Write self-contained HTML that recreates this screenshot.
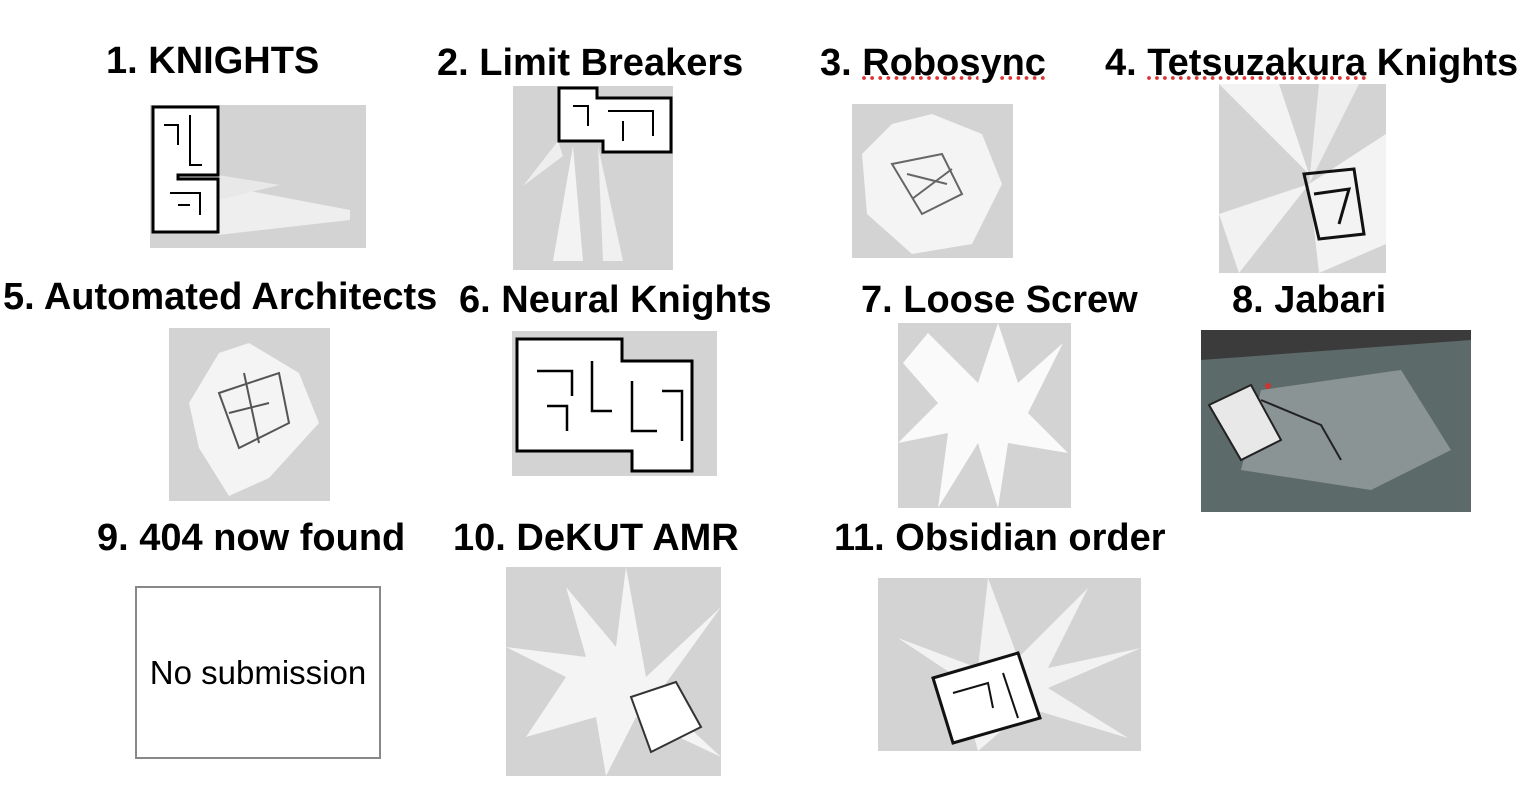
<!DOCTYPE html>
<html><head><meta charset="utf-8"><style>
html,body{margin:0;padding:0;background:#fff;}
body{width:1530px;height:792px;position:relative;overflow:hidden;font-family:"Liberation Sans",Arial,sans-serif;}
.t{position:absolute;font-weight:bold;font-size:38px;line-height:38px;white-space:nowrap;color:#000;}
.im{position:absolute;background:#d3d3d3;overflow:hidden;}
.im svg{position:absolute;left:0;top:0;width:100%;height:100%;}
</style></head><body>
<div class="t" style="left:106px;top:42px;">1. KNIGHTS</div>
<div class="t" style="left:437px;top:44px;">2. Limit Breakers</div>
<div class="t" style="left:820px;top:44px;">3. <span style="text-decoration:underline dotted #d33;">Robosync</span></div>
<div class="t" style="left:1105px;top:44px;">4. <span style="text-decoration:underline dotted #d33;">Tetsuzakura</span> Knights</div>
<div class="t" style="left:3px;top:278px;">5. Automated Architects</div>
<div class="t" style="left:459px;top:281px;">6. Neural Knights</div>
<div class="t" style="left:861px;top:281px;">7. Loose Screw</div>
<div class="t" style="left:1232px;top:281px;">8. Jabari</div>
<div class="t" style="left:97px;top:519px;">9. 404 now found</div>
<div class="t" style="left:453px;top:519px;">10. DeKUT AMR</div>
<div class="t" style="left:834px;top:519px;">11. Obsidian order</div>

<!-- 1 -->
<div class="im" style="left:150px;top:105px;width:216px;height:143px;">
<svg viewBox="0 0 216 143"><polygon points="68,80 200,105 200,115 68,130" fill="#eee"/><polygon points="68,70 130,80 68,95" fill="#e8e8e8"/>
<path d="M3,2 H68 V70 H28 V74 H68 V127 H3 Z" fill="#fff" stroke="#000" stroke-width="3"/>
<path d="M14,20 H28 V40 M40,10 V60 H52 M20,88 H50 V110 M28,100 H40" stroke="#000" stroke-width="2" fill="none"/></svg></div>
<!-- 2 -->
<div class="im" style="left:513px;top:86px;width:160px;height:184px;">
<svg viewBox="0 0 160 184"><polygon points="60,60 40,175 70,175" fill="#f3f3f3"/><polygon points="85,60 90,175 110,175" fill="#f0f0f0"/><polygon points="45,55 10,100 50,70" fill="#eee"/>
<path d="M46,2 H84 V12 H158 V66 H90 V55 H46 Z" fill="#fff" stroke="#000" stroke-width="3"/>
<path d="M60,20 H75 V40 M95,25 H140 V50 M110,35 V55" stroke="#000" stroke-width="2" fill="none"/></svg></div>
<!-- 3 -->
<div class="im" style="left:852px;top:104px;width:161px;height:154px;">
<svg viewBox="0 0 161 154"><polygon points="80,10 130,30 150,80 120,140 60,150 15,110 10,50 40,20" fill="#f4f4f4"/>
<path d="M40,60 L90,50 L110,90 L70,110 Z M55,70 L95,80 M60,95 L100,65" stroke="#666" stroke-width="2" fill="none"/></svg></div>
<!-- 4 -->
<div class="im" style="left:1219px;top:84px;width:167px;height:189px;">
<svg viewBox="0 0 167 189"><polygon points="0,0 90,90 60,0" fill="#f3f3f3"/><polygon points="0,130 90,100 20,189" fill="#f2f2f2"/><polygon points="90,100 167,50 167,160 100,189" fill="#f3f3f3"/><polygon points="90,100 140,0 100,0" fill="#eee"/>
<path d="M85,90 L135,85 L145,150 L100,155 Z M95,110 L130,105 L120,140" stroke="#111" stroke-width="3" fill="none"/></svg></div>
<!-- 5 -->
<div class="im" style="left:169px;top:328px;width:161px;height:173px;">
<svg viewBox="0 0 161 173"><polygon points="80,15 130,45 150,95 100,150 60,168 30,120 20,75 50,25" fill="#f4f4f4"/>
<path d="M50,65 L110,45 L120,95 L70,120 Z M60,85 L100,75 M75,45 L90,115" stroke="#555" stroke-width="2" fill="none"/></svg></div>
<!-- 6 -->
<div class="im" style="left:512px;top:331px;width:205px;height:145px;">
<svg viewBox="0 0 205 145"><path d="M5,8 H110 V30 H180 V140 H120 V120 H5 Z" fill="#fff" stroke="#000" stroke-width="3"/>
<path d="M25,40 H60 V65 M35,75 H55 V100 M80,30 V80 H100 M120,50 V100 H145 M150,60 H170 V110" stroke="#000" stroke-width="2.5" fill="none"/></svg></div>
<!-- 7 -->
<div class="im" style="left:898px;top:323px;width:173px;height:185px;">
<svg viewBox="0 0 173 185"><polygon points="30,10 80,60 100,0 120,60 165,20 130,90 170,130 110,120 100,185 80,120 40,185 50,110 0,120 40,80 5,40" fill="#fafafa"/></svg></div>
<!-- 8 -->
<div class="im" style="left:1201px;top:330px;width:270px;height:182px;background:#5d6a6a;">
<svg viewBox="0 0 270 182"><polygon points="0,0 270,0 270,10 0,30" fill="#3b3b3b"/><polygon points="60,60 200,40 250,120 170,160 40,140" fill="#8a9494"/>
<path d="M8,75 L50,55 L80,110 L40,130 Z" fill="#e8e8e8" stroke="#222" stroke-width="2"/><path d="M60,70 L120,95 L140,130" stroke="#222" stroke-width="2" fill="none"/><circle cx="67" cy="56" r="3" fill="#c33"/></svg></div>
<!-- 9 -->
<div style="position:absolute;left:135px;top:586px;width:242px;height:169px;border:2px solid #888;font-size:33px;line-height:169px;text-align:center;">No submission</div>
<!-- 10 -->
<div class="im" style="left:506px;top:567px;width:215px;height:209px;">
<svg viewBox="0 0 215 209"><polygon points="120,0 140,110 215,40 150,130 215,190 130,150 100,209 90,150 20,170 60,110 0,80 80,90 60,20 110,80" fill="#f4f4f4"/>
<path d="M125,130 L170,115 L195,160 L145,185 Z" fill="#fff" stroke="#333" stroke-width="2"/></svg></div>
<!-- 11 -->
<div class="im" style="left:878px;top:578px;width:263px;height:173px;">
<svg viewBox="0 0 263 173"><polygon points="100,90 110,0 140,80 210,10 170,90 263,70 170,110 250,160 150,130 100,173 80,100 20,60" fill="#f2f2f2"/>
<path d="M55,100 L140,75 L162,140 L75,165 Z" fill="#fff" stroke="#111" stroke-width="3"/><path d="M75,115 L110,105 L115,130 M125,95 L140,140" stroke="#111" stroke-width="2" fill="none"/></svg></div>
</body></html>
